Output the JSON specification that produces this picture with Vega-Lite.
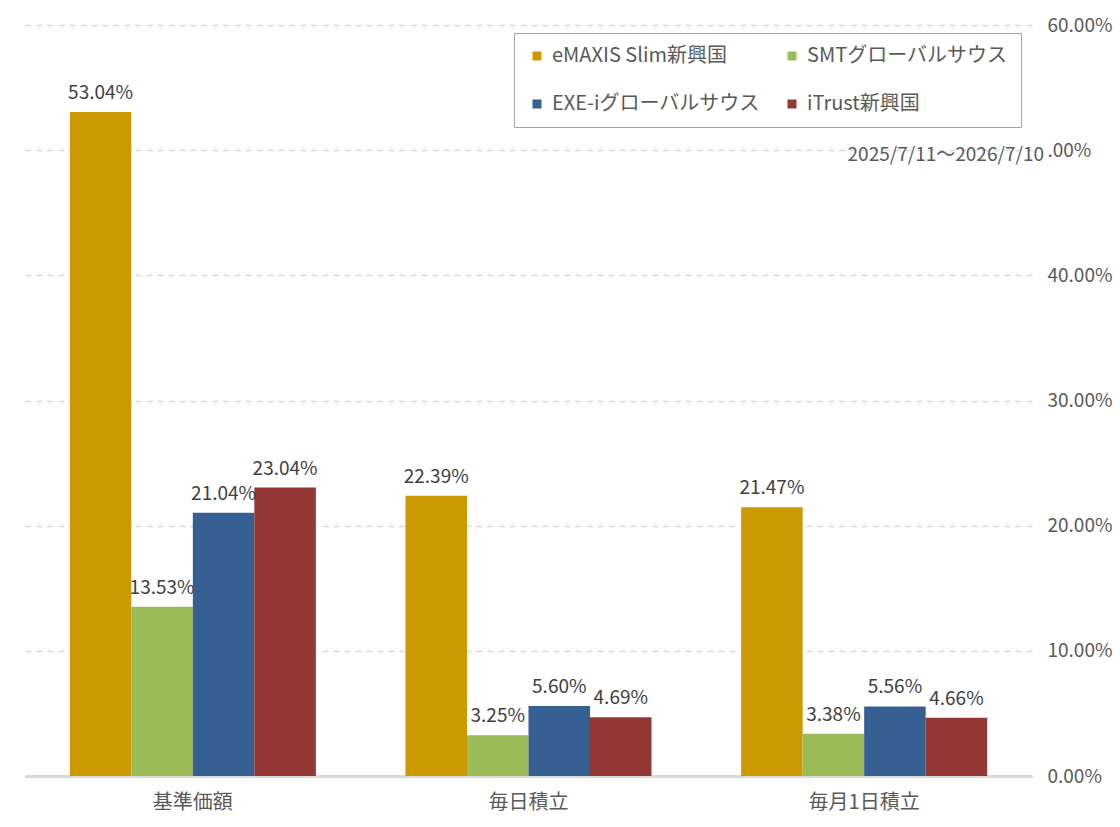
{
  "$schema": "https://vega.github.io/schema/vega-lite/v6.json",
  "width": 1007,
  "height": 751,
  "autosize": "none",
  "padding": {"left": 25, "top": 25, "right": 88, "bottom": 51},
  "background": "white",
  "title": {
    "text": "2025/7/11～2026/7/10",
    "anchor": "end",
    "frame": "group",
    "orient": "top",
    "offset": 0,
    "dx": 12,
    "dy": 168,
    "baseline": "bottom",
    "fontSize": 19,
    "fontWeight": "normal",
    "color": "#595959"
  },
  "data": {
    "values": [
      {"method": "基準価額", "fund": "eMAXIS Slim新興国", "value": 0.5304},
      {"method": "基準価額", "fund": "SMTグローバルサウス", "value": 0.1353},
      {"method": "基準価額", "fund": "EXE-iグローバルサウス", "value": 0.2104},
      {"method": "基準価額", "fund": "iTrust新興国", "value": 0.2304},
      {"method": "毎日積立", "fund": "eMAXIS Slim新興国", "value": 0.2239},
      {"method": "毎日積立", "fund": "SMTグローバルサウス", "value": 0.0325},
      {"method": "毎日積立", "fund": "EXE-iグローバルサウス", "value": 0.0560},
      {"method": "毎日積立", "fund": "iTrust新興国", "value": 0.0469},
      {"method": "毎月1日積立", "fund": "eMAXIS Slim新興国", "value": 0.2147},
      {"method": "毎月1日積立", "fund": "SMTグローバルサウス", "value": 0.0338},
      {"method": "毎月1日積立", "fund": "EXE-iグローバルサウス", "value": 0.0556},
      {"method": "毎月1日積立", "fund": "iTrust新興国", "value": 0.0466}
    ]
  },
  "encoding": {
    "x": {
      "field": "method",
      "type": "nominal",
      "sort": ["基準価額", "毎日積立", "毎月1日積立"],
      "scale": {"paddingInner": 0.267, "paddingOuter": 0.1335},
      "axis": {
        "title": null,
        "labelAngle": 0,
        "labelFontSize": 20,
        "labelColor": "#595959",
        "labelPadding": 16,
        "ticks": false,
        "domainColor": "#D9D9D9",
        "domainWidth": 3
      }
    },
    "xOffset": {
      "field": "fund",
      "type": "nominal",
      "sort": ["eMAXIS Slim新興国", "SMTグローバルサウス", "EXE-iグローバルサウス", "iTrust新興国"],
      "scale": {"paddingInner": 0, "paddingOuter": 0}
    },
    "y": {
      "field": "value",
      "type": "quantitative",
      "scale": {"domain": [0, 0.6], "nice": false},
      "axis": {
        "title": null,
        "orient": "right",
        "values": [0, 0.1, 0.2, 0.3, 0.4, 0.5, 0.6],
        "format": ".2%",
        "labelExpr": "datum.value == 0.5 ? '\u00a0\u00a0\u00a0\u00a0.00%' : datum.label",
        "labelFontSize": 19,
        "labelColor": "#595959",
        "labelPadding": 15,
        "domain": false,
        "ticks": false,
        "gridColor": "#D9D9D9",
        "gridDash": [6, 5],
        "gridWidth": 1.5
      }
    }
  },
  "layer": [
    {
      "mark": {"type": "bar"},
      "encoding": {
        "color": {
          "field": "fund",
          "type": "nominal",
          "sort": ["eMAXIS Slim新興国", "SMTグローバルサウス", "EXE-iグローバルサウス", "iTrust新興国"],
          "scale": {
            "domain": ["eMAXIS Slim新興国", "SMTグローバルサウス", "EXE-iグローバルサウス", "iTrust新興国"],
            "range": ["#CC9900", "#9BBB59", "#376092", "#953735"]
          },
          "legend": {
            "title": null,
            "orient": "none",
            "legendX": 489,
            "legendY": 8,
            "columns": 2,
            "direction": "horizontal",
            "symbolType": "square",
            "symbolSize": 81,
            "labelFontSize": 20,
            "labelColor": "#595959",
            "labelOffset": 5,
            "labelLimit": 400,
            "rowPadding": 28,
            "columnPadding": 22,
            "padding": 13,
            "fillColor": "white",
            "strokeColor": "#A6A6A6"
          }
        }
      }
    },
    {
      "mark": {"type": "text", "baseline": "alphabetic", "dy": -13, "fontSize": 19, "color": "#404040"},
      "encoding": {
        "text": {"field": "value", "type": "quantitative", "format": ".2%"}
      }
    }
  ],
  "config": {
    "font": "Noto Sans CJK JP, sans-serif",
    "view": {"stroke": null}
  }
}
